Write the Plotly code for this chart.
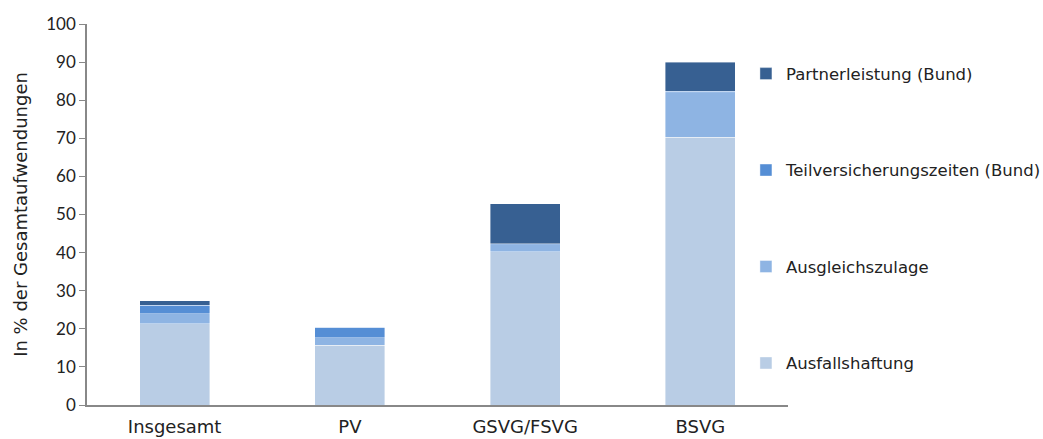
import plotly.graph_objects as go

categories = ["Insgesamt", "PV", "GSVG/FSVG", "BSVG"]

series_names = [
    "Ausfallshaftung",
    "Ausgleichszulage",
    "Teilversicherungszeiten (Bund)",
    "Partnerleistung (Bund)",
]
ausfallshaftung = [21.3, 15.7, 40.2, 70.3]
ausgleichszulage = [2.6, 2.0, 1.9, 11.6]
teilversicherungszeiten = [2.3, 2.7, 0.2, 0.5]
partnerleistung = [1.2, 0.0, 10.5, 7.6]

colors = ["#B9CDE5", "#8EB4E3", "#558ED5", "#376092"]

y_ticks = [0, 10, 20, 30, 40, 50, 60, 70, 80, 90, 100]

wide_font = "'DejaVu Sans', sans-serif"
narrow_font = "Lato, sans-serif"

fig = go.Figure()
for i, (name, vals, col) in enumerate(zip(
    series_names,
    [ausfallshaftung, ausgleichszulage, teilversicherungszeiten, partnerleistung],
    colors,
)):
    fig.add_trace(
        go.Bar(
            x=categories,
            y=vals,
            name=name,
            legendgroup=name,
            legendrank=1000 - i,
            marker=dict(color=col, line=dict(color="rgba(255,255,255,0.5)", width=0.8)),
        )
    )

fig.update_layout(
    barmode="stack",
    bargap=0.6,
    width=1043,
    height=439,
    margin=dict(l=87, r=255, t=24, b=34, autoexpand=False),
    paper_bgcolor="white",
    plot_bgcolor="white",
    font=dict(family=wide_font, size=16, color="#222222"),
    legend=dict(
        x=0.94,
        y=0.915,
        xanchor="left",
        yanchor="top",
        traceorder="grouped",
        tracegroupgap=72,
        font=dict(family=wide_font, size=16.5, color="#222222"),
        itemclick=False,
    ),
    showlegend=True,
)

fig.update_xaxes(
    showline=True,
    linecolor="#888888",
    linewidth=1.5,
    ticks="outside",
    ticklen=5,
    tickcolor="rgba(0,0,0,0)",
    showgrid=False,
    automargin=False,
    tickfont=dict(family=wide_font, size=18),
)
fig.update_yaxes(
    range=[0, 100],
    tickvals=y_ticks,
    showline=True,
    linecolor="#888888",
    linewidth=1.5,
    ticks="outside",
    ticklen=6,
    tickcolor="#888888",
    showgrid=False,
    zeroline=False,
    automargin=False,
    tickfont=dict(family=narrow_font, size=17),
    title=dict(text="In % der Gesamtaufwendungen",
               font=dict(family=wide_font, size=18), standoff=14),
)

fig.write_html("out.html")
